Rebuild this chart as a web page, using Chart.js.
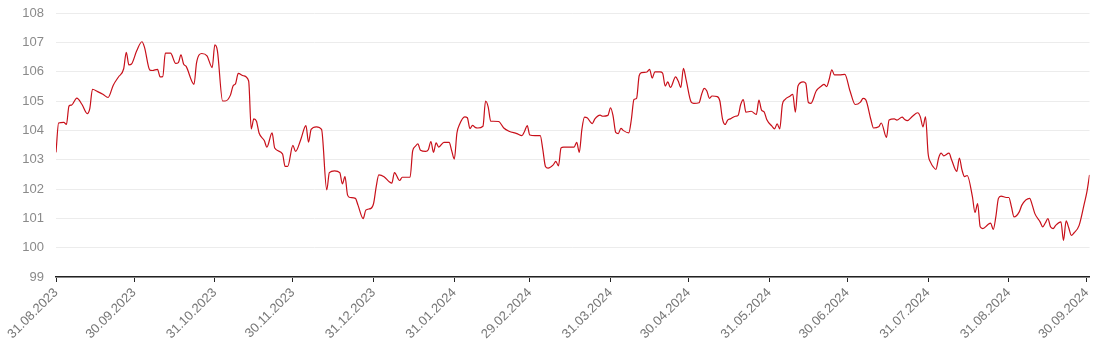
<!DOCTYPE html>
<html>
<head>
<meta charset="utf-8">
<script src="https://cdn.jsdelivr.net/npm/chart.js@4"></script>
<style>
  html, body { margin: 0; padding: 0; background: #fff; }
  #wrap { width: 1101px; height: 354px; }
</style>
</head>
<body>
<div id="wrap"><canvas id="chart"></canvas></div>
<script>
// days since 31.08.2023
const days = [0,1,3,4,5,6,8,10,12,13,14,16,18,20,22,24,26,27,28,29,31,33,34,36,37,39,40,41,42,44,46,47,48,49,50,53,54,56,58,60,61,62,64,65,67,68,69,70,72,74,75,76,77,78,80,81,83,84,87,88,89,91,92,94,96,97,98,100,102,104,105,107,109,110,111,112,113,115,116,118,119,121,122,123,124,126,128,129,130,132,133,136,137,138,139,140,142,143,144,145,146,147,149,151,152,153,154,155,157,158,159,160,161,162,164,165,166,167,168,170,172,174,177,179,180,181,182,184,186,187,188,189,191,192,193,194,195,199,200,201,202,203,204,206,207,209,210,212,213,214,215,216,217,218,220,221,222,223,224,225,227,228,229,230,232,233,234,235,236,238,239,240,241,242,244,245,247,248,249,250,251,252,254,255,256,257,258,259,261,262,263,264,265,267,269,270,271,272,273,275,276,277,278,279,280,282,283,284,285,287,288,289,290,292,294,295,296,297,298,299,301,303,305,307,309,310,311,313,314,316,317,319,320,322,323,325,326,327,329,331,332,333,334,335,336,337,338,339,340,341,343,344,346,347,348,349,350,352,353,354,355,356,358,359,360,361,362,363,365,366,367,368,370,371,374,375,376,378,379,380,381,382,383,384,386,387,388,389,390,391,393,395,396,397];

const values = [103.25,104.25,104.27,104.2,104.83,104.86,105.1,104.88,104.57,104.75,105.4,105.32,105.23,105.12,105.54,105.82,106.1,106.66,106.23,106.26,106.71,107.02,106.83,106.06,106.04,106.08,105.82,105.83,106.63,106.63,106.28,106.31,106.57,106.26,106.18,105.57,106.31,106.62,106.54,106.14,106.91,106.71,105.0,105.0,105.2,105.51,105.6,105.94,105.86,105.68,104.05,104.39,104.31,103.91,103.65,103.43,103.91,103.4,103.2,102.77,102.77,103.49,103.28,103.68,104.16,103.6,104.03,104.12,104.03,101.97,102.56,102.62,102.56,102.17,102.42,101.79,101.71,101.68,101.45,100.99,101.28,101.34,101.51,102.08,102.48,102.42,102.25,102.2,102.56,102.29,102.4,102.4,103.3,103.45,103.54,103.32,103.28,103.34,103.62,103.25,103.57,103.43,103.59,103.59,103.3,103.02,103.91,104.2,104.46,104.43,104.06,104.17,104.1,104.08,104.14,105.0,104.8,104.31,104.31,104.3,104.08,103.97,103.89,103.82,103.97,104.16,103.84,103.82,103.82,103.34,102.77,102.71,102.82,102.94,102.79,103.4,103.43,103.43,103.59,103.25,104.03,104.45,104.43,104.23,104.39,104.52,104.48,104.51,104.77,104.48,103.93,103.89,104.07,103.99,103.91,104.37,105.05,105.09,105.86,105.97,105.99,106.08,105.78,105.99,105.99,105.95,105.51,105.65,105.46,105.82,105.68,105.46,106.11,105.74,104.96,104.92,104.94,105.23,105.43,105.34,105.09,105.17,105.15,105.0,104.39,104.2,104.35,104.39,104.48,104.51,104.88,105.05,104.62,104.65,104.54,105.03,104.69,104.63,104.37,104.14,104.05,104.22,104.05,104.88,105.05,105.17,105.23,104.62,105.51,105.65,105.6,104.95,104.92,105.34,105.51,105.57,105.49,105.74,106.06,105.89,105.89,105.91,105.34,104.88,104.96,105.09,105.05,104.37,104.08,104.12,104.25,103.76,104.35,104.39,104.35,104.45,104.37,104.33,104.48,104.6,104.46,104.12,104.46,103.2,102.9,102.75,102.67,103.05,103.22,103.13,103.22,103.0,102.6,103.05,102.65,102.42,102.46,101.74,101.2,101.5,100.71,100.65,100.79,100.84,100.62,101.05,101.68,101.76,101.71,101.71,101.39,101.05,101.22,101.45,101.68,101.45,101.16,100.88,100.71,100.84,100.99,100.71,100.65,100.76,100.88,100.25,100.91,100.68,100.42,100.5,100.76,101.51,101.91,102.48];

const tickDays = [0, 30, 61, 91, 122, 153, 182, 213, 243, 274, 304, 335, 366, 396];
const tickLabels = ['31.08.2023', '30.09.2023', '31.10.2023', '30.11.2023', '31.12.2023', '31.01.2024', '29.02.2024',
  '31.03.2024', '30.04.2024', '31.05.2024', '30.06.2024', '31.07.2024', '31.08.2024', '30.09.2024'];

const points = days.map((d, i) => ({ x: d, y: values[i] }));

new Chart(document.getElementById('chart'), {
  type: 'line',
  data: {
    datasets: [{
      data: points,
      borderColor: '#c8101a',
      borderWidth: 1.2,
      pointRadius: 0,
      cubicInterpolationMode: 'monotone',
      fill: false,
    }],
  },
  options: {
    responsive: true,
    maintainAspectRatio: false,
    animation: false,
    layout: { padding: { top: 0, right: 9, left: 0, bottom: 0 } },
    plugins: { legend: { display: false }, tooltip: { enabled: false } },
    scales: {
      x: {
        type: 'linear',
        min: 0,
        max: 397,
        afterBuildTicks: (scale) => { scale.ticks = tickDays.map((v) => ({ value: v })); },
        afterFit: (scale) => { scale.height = 77; },
        ticks: {
          autoSkip: false,
          minRotation: 45,
          maxRotation: 45,
          color: '#777',
          font: { family: 'Liberation Sans, Arial, sans-serif', size: 13 },
          callback: (v) => tickLabels[tickDays.indexOf(v)],
        },
        grid: { drawOnChartArea: false, drawTicks: true, tickLength: 5, color: '#222' },
        border: { display: true, color: '#222', width: 1.5 },
      },
      y: {
        min: 99,
        max: 108,
        afterFit: (scale) => { scale.width = 56; scale.paddingTop = 13; },
        ticks: {
          stepSize: 1,
          padding: 12,
          color: '#8a8a8a',
          font: { family: 'Liberation Sans, Arial, sans-serif', size: 13 },
        },
        grid: { color: '#ececec', drawTicks: false },
        border: { display: false },
      },
    },
  },
});
</script>
</body>
</html>
